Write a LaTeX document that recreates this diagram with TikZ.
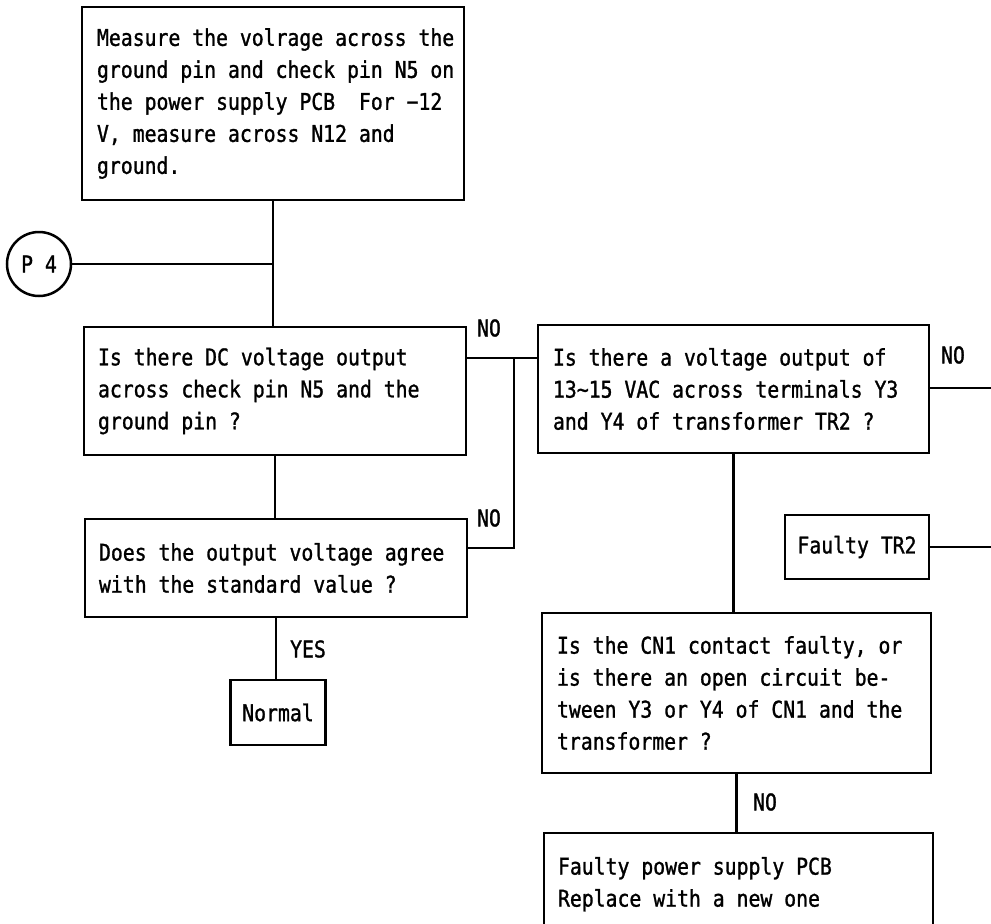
\documentclass[tikz,border=0pt]{standalone}
\usepackage{fontspec}
\newfontfamily\flowfont[FakeStretch=0.86, FakeBold=1.2]{DejaVu Sans Mono}
\usetikzlibrary{calc}
\begin{document}
\begin{tikzpicture}[x=1pt,y=-1pt,
  line width=2.5pt,
  every node/.style={font=\flowfont\fontsize{23}{32}\selectfont},
  stepbox/.style={draw, rectangle, inner sep=0pt, fill=white},
  txt/.style={inner sep=0pt, align=left, anchor=west},
  tag/.style={inner sep=0pt}
]
\clip (0,0) rectangle (991,924);
\fill[white] (0,0) rectangle (991,924);

% left column
\node[stepbox, minimum width=382pt, minimum height=193pt] (b1) at (273,103.5) {};
\node[txt] (b1t) at ($(b1.west)+(15,0)$) {Measure the volrage across the\\ground pin and check pin N5 on\\the power supply PCB\ \ For −12\\V, measure across N12 and\\ground.};

\node[draw, circle, inner sep=0pt, minimum size=64pt, fill=white] (p4) at (39,264) {P 4};

\node[stepbox, minimum width=382pt, minimum height=128pt] (b2) at (275,391) {};
\node[txt] (b2t) at ($(b2.west)+(14,0)$) {Is there DC voltage output\\across check pin N5 and the\\ground pin ?};

\node[stepbox, minimum width=382pt, minimum height=98pt] (b3) at (276,568) {};
\node[txt] (b3t) at ($(b3.west)+(14,0)$) {Does the output voltage agree\\with the standard value ?};

\node[stepbox, minimum width=95pt, minimum height=65pt] (nrm) at (278,712.5) {Normal};

% right column
\node[stepbox, minimum width=391pt, minimum height=128pt] (b4) at (733.5,389) {};
\node[txt] (b4t) at ($(b4.west)+(15,0)$) {Is there a voltage output of\\13∼15 VAC across terminals Y3\\and Y4 of transformer TR2 ?};

\node[stepbox, minimum width=144pt, minimum height=64pt] (tr2) at (857,547) {Faulty TR2};

\node[stepbox, minimum width=389pt, minimum height=160pt] (b5) at (736.5,693) {};
\node[txt] (b5t) at ($(b5.west)+(15,0)$) {Is the CN1 contact faulty, or\\is there an open circuit be-\\tween Y3 or Y4 of CN1 and the\\transformer ?};

\node[stepbox, minimum width=389pt, minimum height=140pt] (b6) at (738.5,903) {};
\node[txt, anchor=north west] (b6t) at ($(b6.north west)+(14,24)$) {Faulty power supply PCB\\Replace with a new one};

% connectors
\coordinate (jp) at (b1.south |- p4.east);
\draw (b1.south) -- (b1.south |- b2.north);
\draw (p4.east) -- (jp);
\draw (b2.south) -- (b2.south |- b3.north);
\draw (b3.south) -- (b3.south |- nrm.north);

\coordinate (ja) at (514,358);
\coordinate (jb) at (514,548);
\draw (b2.east |- ja) -- (b4.west |- ja);
\draw (ja) -- (jb) -- (b3.east |- jb);

\coordinate (out1) at (991,388);
\coordinate (out2) at (991,547);
\draw (b4.east |- out1) -- (out1);
\draw (tr2.east) -- (out2);

\draw (b4.south) -- (b4.south |- b5.north);
\draw (b5.south) -- (b5.south |- b6.north);

% branch labels
\node[tag] (no1) at (489,328) {NO};
\node[tag] (no2) at (489,518) {NO};
\node[tag] (no3) at (953,355) {NO};
\node[tag] (no4) at (765,802) {NO};
\node[tag] (yes) at (308,649) {YES};
\end{tikzpicture}
\end{document}
